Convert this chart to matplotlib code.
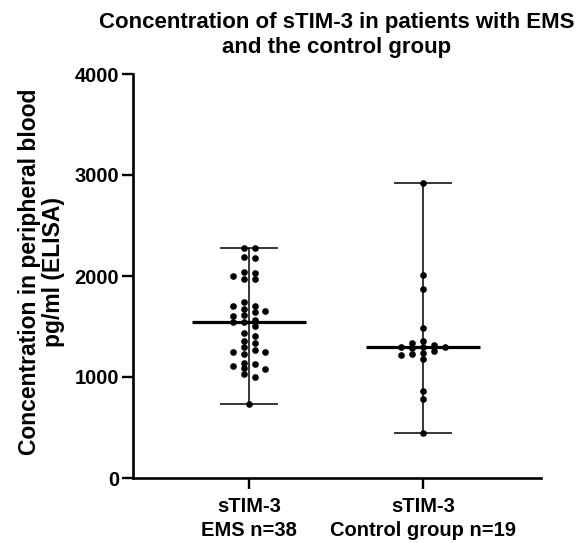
import numpy as np
import matplotlib
matplotlib.use("Agg")
import matplotlib.pyplot as plt

plt.rcParams["font.family"] = ["Liberation Sans", "DejaVu Sans"]
plt.rcParams["font.weight"] = "bold"

# values (pg/ml)
ems = [2280, 2280, 2185, 2175, 2037, 2027, 2000, 1970, 1970, 1746,
       1706, 1703, 1670, 1653, 1647, 1614, 1604, 1564, 1542, 1542,
       1508, 1439, 1409, 1359, 1334, 1300, 1267, 1250, 1250, 1226,
       1142, 1126, 1112, 1086, 1079, 1027, 1003, 733]
control = [2917, 2007, 1868, 1482, 1360, 1340, 1317, 1300, 1294, 1294,
           1284, 1254, 1241, 1228, 1218, 1175, 861, 779, 448]
groups = [ems, control]
labels = ["sTIM-3\nEMS n=38", "sTIM-3\nControl group n=19"]
title = "Concentration of sTIM-3 in patients with EMS\nand the control group"
ylabel = "Concentration in peripheral blood\npg/ml (ELISA)"
yticks = [0, 1000, 2000, 3000, 4000]


def swarm(vals, slots, gap=55):
    # greedy column layout, top to bottom, lone points stay centred
    vals = np.asarray(vals, float)
    out = np.zeros(len(vals))
    used = {s: [] for s in slots}
    for i in np.argsort(-vals, kind="stable"):
        v = vals[i]
        others = np.delete(vals, i)
        if np.all(np.abs(others - v) >= gap):
            out[i] = 0
            continue
        for s in slots:
            if all(abs(v - u) >= gap for u in used[s]):
                used[s].append(v)
                out[i] = s
                break
    return out


fig = plt.figure(figsize=(5.77, 5.43), dpi=100)
ax = fig.add_axes([133 / 577, 1 - 478 / 543, 408 / 577, 404 / 543])

step = 0.063
slot_sets = [[-0.5, 0.5, -1.5, 1.5, -2.5, 2.5], [0, -1, 1, -2, 2, -3, 3]]
for x, (vals, slots) in enumerate(zip(groups, slot_sets)):
    v = np.asarray(vals)
    ax.vlines(x, v.min(), v.max(), color="black", lw=1.1, zorder=2)
    ax.hlines([v.min(), v.max()], x - 0.165, x + 0.165, color="black", lw=1.1, zorder=2)
    ax.hlines(np.median(v), x - 0.33, x + 0.33, color="black", lw=2.3, zorder=3)
    ax.plot(x + swarm(v, slots) * step, v, "o", color="black", ms=4.8,
            mec="none", zorder=4)

ax.set_xlim(-0.667, 1.678)
ax.set_ylim(0, 4000)
ax.set_yticks(yticks)
ax.set_yticklabels([str(t) for t in yticks], fontsize=14.5, fontweight="bold")
ax.set_xticks([0, 1])
ax.set_xticklabels(labels, fontsize=14.5, fontweight="bold", linespacing=1.35)
ax.tick_params(axis="both", length=8, width=1.7, color="black")
ax.tick_params(axis="x", pad=5.5)
ax.tick_params(axis="y", pad=2)
for side in ["top", "right"]:
    ax.spines[side].set_visible(False)
for side in ["left", "bottom"]:
    ax.spines[side].set_linewidth(1.9)
ax.set_ylabel(ylabel, fontsize=16.5, fontweight="bold", linespacing=1.05)
ax.yaxis.set_label_coords(-0.167, 0.51)

fig.text(337 / 577, 1 - 35 / 543, title, ha="center", va="center",
         fontsize=16, fontweight="bold", linespacing=1.3)

fig.savefig("out.png", dpi=100)
